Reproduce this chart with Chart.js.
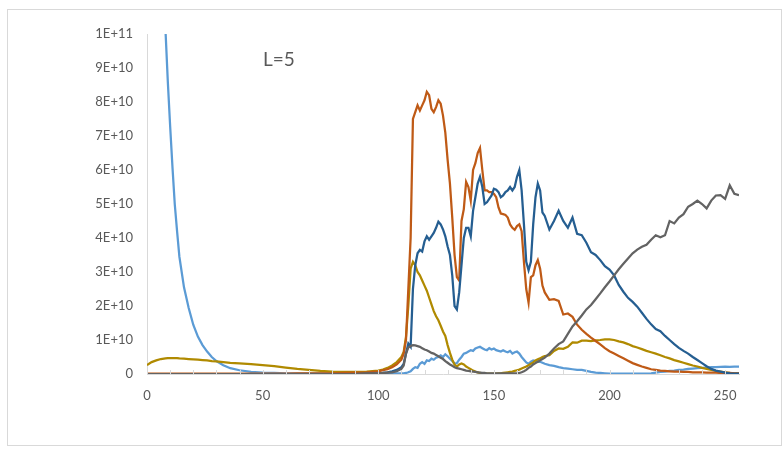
<!DOCTYPE html>
<html>
<head>
<meta charset="utf-8">
<script src="https://cdn.jsdelivr.net/npm/chart.js@4.4.1/dist/chart.umd.min.js"></script>
<style>
  body { margin: 0; background: #fff; }
  #wrap { width: 784px; height: 458px; }
</style>
</head>
<body>
<div id="wrap"><canvas id="chart" width="784" height="458"></canvas></div>
<script>
// x positions shared by every series (finer where the curves move fast)
const xs = [
  0, 2, 4, 6, 8, 9, 10, 11, 12, 13, 14, 16, 18, 20, 22, 24, 26, 28, 30, 33, 36, 40, 45, 50, 55, 60, 65, 70, 75, 80, 85, 90, 95,
  100, 102, 104, 106, 108, 110,
  111, 112, 113, 114, 115, 116, 117, 118, 119, 120,
  121, 122, 123, 124, 125, 126, 127, 128, 129, 130,
  131, 132, 133, 134, 135, 136, 137, 138, 139, 140,
  141, 142, 143, 144, 145, 146, 147, 148, 149, 150,
  151, 152, 153, 154, 155, 156, 157, 158, 159, 160,
  161, 162, 163, 164, 165, 166, 167, 168, 169, 170,
  171, 172,
  174, 176, 178, 180, 182, 184, 186, 188, 190, 192,
  194, 196, 198, 200, 202, 204, 206, 208, 210, 212,
  214, 216, 218, 220, 222, 224, 226, 228, 230, 232,
  234, 236, 238, 240, 242, 244, 246, 248, 250, 252,
  254, 256
];

// values in units of 1E+10
const lightBlue = [
  26, 21, 16.5, 12.8, 10.1, 8.6, 7.3, 6.1, 5.0, 4.2, 3.45, 2.55, 1.95, 1.45, 1.1, 0.85, 0.66, 0.5, 0.38, 0.26, 0.17, 0.11, 0.06, 0.04, 0.03, 0.02, 0.02, 0.02, 0.02, 0.02, 0.02, 0.02, 0.02,
  0.02, 0.02, 0.02, 0.02, 0.02, 0.02,
  0.02, 0.03, 0.05, 0.08, 0.15, 0.2, 0.18, 0.3, 0.35, 0.3,
  0.4, 0.38, 0.45, 0.42, 0.48, 0.5, 0.55, 0.5, 0.58, 0.52,
  0.45, 0.38, 0.3, 0.32, 0.42, 0.5, 0.6, 0.62, 0.66, 0.7,
  0.68, 0.75, 0.78, 0.8, 0.76, 0.72, 0.7, 0.76, 0.72, 0.75,
  0.7, 0.68, 0.66, 0.7, 0.66, 0.64, 0.68, 0.6, 0.64, 0.66,
  0.6, 0.5, 0.42, 0.34, 0.3, 0.36, 0.4, 0.38, 0.36, 0.36,
  0.33, 0.3,
  0.26, 0.24, 0.2, 0.17, 0.16, 0.14, 0.12, 0.12, 0.09, 0.06,
  0.04, 0.03, 0.02, 0.01, 0.01, 0.01, 0.01, 0.01, 0.01, 0.01,
  0.01, 0.01, 0.02, 0.04, 0.06, 0.07, 0.09, 0.1, 0.12, 0.13,
  0.15, 0.16, 0.17, 0.18, 0.19, 0.2, 0.2, 0.21, 0.22, 0.21,
  0.22, 0.22
];

const olive = [
  0.26, 0.35, 0.40, 0.44, 0.46, 0.47, 0.47, 0.47, 0.47, 0.47, 0.46, 0.45, 0.44, 0.43, 0.42, 0.41, 0.40, 0.38, 0.37, 0.35, 0.33, 0.31, 0.29, 0.26, 0.23, 0.19, 0.15, 0.12, 0.09, 0.07, 0.06, 0.06, 0.07,
  0.1, 0.13, 0.18, 0.25, 0.35, 0.5,
  0.65, 1.1, 2.0, 3.1, 3.3, 3.2, 3.0, 2.9, 2.75, 2.6,
  2.45, 2.25, 2.05, 1.85, 1.7, 1.58, 1.42, 1.25, 1.12, 0.85,
  0.62, 0.42, 0.28, 0.22, 0.28, 0.31, 0.28, 0.22, 0.18, 0.14,
  0.1, 0.07, 0.05, 0.03, 0.02, 0.01, 0.01, 0.01, 0.01, 0.01,
  0.01, 0.02, 0.02, 0.03, 0.04, 0.05, 0.06, 0.07, 0.09, 0.11,
  0.13, 0.16, 0.19, 0.22, 0.26, 0.3, 0.34, 0.4, 0.43, 0.46,
  0.5, 0.53,
  0.55, 0.68, 0.75, 0.74, 0.8, 0.93, 0.92, 0.98, 0.98, 0.97,
  0.99, 1.0, 1.02, 1.02, 1.0, 0.96, 0.93, 0.88, 0.82, 0.78,
  0.73, 0.68, 0.64, 0.6, 0.55, 0.5, 0.46, 0.41, 0.37, 0.33,
  0.29, 0.25, 0.22, 0.18, 0.15, 0.12, 0.09, 0.07, 0.05, 0.03,
  0.02, 0.02
];

const brown = [
  0.01, 0.01, 0.01, 0.01, 0.01, 0.01, 0.01, 0.01, 0.01, 0.01, 0.01, 0.01, 0.01, 0.01, 0.01, 0.01, 0.01, 0.01, 0.01, 0.01, 0.01, 0.01, 0.01, 0.01, 0.01, 0.01, 0.02, 0.02, 0.02, 0.02, 0.03, 0.04, 0.05,
  0.08, 0.11, 0.14, 0.2, 0.28, 0.42,
  0.6, 1.0, 2.5, 4.0, 7.5, 7.7, 7.9, 7.75, 7.9, 8.05,
  8.3, 8.2, 7.8, 7.7, 7.85, 8.05, 7.95, 7.6, 7.1, 6.3,
  5.6, 4.6, 3.5, 2.85, 2.75, 4.5, 4.85, 5.65, 5.5, 5.1,
  6.0, 6.2, 6.5, 6.65, 6.0, 5.4, 5.4, 5.35, 5.35, 5.3,
  5.2, 4.9, 4.72, 4.7, 4.68, 4.6, 4.4, 4.3, 4.24, 4.35,
  4.4, 4.2, 3.3, 2.5, 2.1, 2.85, 2.9, 3.2, 3.35, 3.1,
  2.6, 2.4,
  2.18, 2.2, 2.15, 1.75, 1.78, 1.68, 1.45, 1.3, 1.18, 1.07,
  0.97, 0.87, 0.76, 0.67, 0.6, 0.53, 0.46, 0.39, 0.32, 0.27,
  0.22, 0.18, 0.14, 0.12, 0.1, 0.09, 0.08, 0.07, 0.07, 0.06,
  0.06, 0.05, 0.05, 0.05, 0.04, 0.04, 0.04, 0.03, 0.03, 0.03,
  0.02, 0.02
];

const darkBlue = [
  0, 0, 0, 0, 0, 0, 0, 0, 0, 0, 0, 0, 0, 0, 0, 0, 0, 0, 0, 0, 0, 0, 0, 0, 0, 0, 0, 0, 0, 0, 0, 0, 0.01,
  0.02, 0.03, 0.05, 0.08, 0.12, 0.2,
  0.3, 0.6, 0.9, 0.8, 2.5, 3.2, 3.55, 3.65, 3.6, 3.9,
  4.05, 3.95, 4.05, 4.15, 4.3, 4.48, 4.4, 4.25, 4.05, 3.75,
  3.5, 2.9, 2.0, 1.9, 2.4, 3.2, 4.0, 4.3, 4.3, 4.05,
  4.8, 5.2, 5.6, 5.8, 5.5, 5.0, 5.05, 5.15, 5.25, 5.45,
  5.42, 5.35, 5.2, 5.25, 5.35, 5.4, 5.5, 5.4, 5.5, 5.8,
  6.0, 5.4, 4.4, 3.3, 3.05, 3.3, 4.4, 5.2, 5.6, 5.4,
  4.75, 4.65,
  4.25, 4.5, 4.8, 4.5, 4.3, 4.6, 4.12, 4.08, 3.86, 3.58,
  3.5, 3.35, 3.17, 3.07, 2.9, 2.62, 2.42, 2.24, 2.12, 1.98,
  1.8, 1.62, 1.46, 1.32, 1.26, 1.12, 1.0, 0.88, 0.77, 0.68,
  0.6, 0.5, 0.41, 0.32, 0.23, 0.15, 0.1, 0.07, 0.04, 0.02,
  0.01, 0.01
];

const gray = [
  0, 0, 0, 0, 0, 0, 0, 0, 0, 0, 0, 0, 0, 0, 0, 0, 0, 0, 0, 0, 0, 0, 0, 0, 0, 0, 0, 0, 0, 0, 0, 0, 0.01,
  0.02, 0.03, 0.04, 0.05, 0.08, 0.15,
  0.25, 0.6, 0.78, 0.82, 0.85, 0.84, 0.82, 0.8, 0.76, 0.72,
  0.7, 0.66, 0.62, 0.6, 0.56, 0.52, 0.48, 0.44, 0.38, 0.33,
  0.28, 0.24, 0.2, 0.17, 0.16, 0.14, 0.12, 0.1, 0.09, 0.08,
  0.07, 0.06, 0.05, 0.04, 0.03, 0.03, 0.02, 0.02, 0.02, 0.02,
  0.02, 0.02, 0.02, 0.02, 0.02, 0.02, 0.02, 0.02, 0.02, 0.02,
  0.03, 0.05, 0.08, 0.12, 0.18, 0.22, 0.28, 0.32, 0.36, 0.4,
  0.44, 0.48,
  0.6, 0.75, 0.88, 0.96, 1.18, 1.4, 1.55, 1.72, 1.9, 2.03,
  2.2, 2.37, 2.55, 2.72, 2.9, 3.08, 3.24, 3.4, 3.55, 3.66,
  3.74, 3.8, 3.95, 4.08, 4.02, 4.08, 4.5, 4.43, 4.6, 4.7,
  4.92, 5.0, 5.1, 5.0, 4.87, 5.1, 5.25, 5.26, 5.15, 5.55,
  5.3, 5.26
];

const xTickValues = [0, 50, 100, 150, 200, 250];
const xMinorTicks = [10, 20, 30, 40, 60, 70, 80, 90, 110, 120, 130, 140, 160, 170, 180, 190, 210, 220, 230, 240];
const yTickValues = [0, 1, 2, 3, 4, 5, 6, 7, 8, 9, 10];
const yTickLabels = ['0', '1E+10', '2E+10', '3E+10', '4E+10', '5E+10', '6E+10', '7E+10', '8E+10', '9E+10', '1E+11'];
const chartTitle = 'L=5';

const toPoints = arr => xs.map((x, i) => ({ x: x, y: arr[i] }));

const axisColor = '#d9d9d9';
const textColor = '#595959';

// frame, title text and the small inside tick marks
const decorations = {
  id: 'decorations',
  afterDraw(chart) {
    const ctx = chart.ctx;
    const xScale = chart.scales.x;
    const bottom = chart.chartArea.bottom;
    ctx.save();
    ctx.strokeStyle = axisColor;
    ctx.lineWidth = 1;
    ctx.strokeRect(7.5, 9.5, 774, 436);
    ctx.beginPath();
    xMinorTicks.concat(xTickValues).forEach(v => {
      const px = Math.round(xScale.getPixelForValue(v)) + 0.5;
      ctx.moveTo(px, bottom);
      ctx.lineTo(px, bottom - 4);
    });
    ctx.stroke();
    ctx.fillStyle = textColor;
    ctx.font = '19px Lato, "Open Sans", sans-serif';
    ctx.textBaseline = 'middle';
    ctx.fillText(chartTitle, 263, 60);
    ctx.restore();
  }
};

const ctx = document.getElementById('chart').getContext('2d');
new Chart(ctx, {
  type: 'line',
  data: {
    datasets: [
      { label: 'gray', data: toPoints(gray), borderColor: '#636363' },
      { label: 'darkBlue', data: toPoints(darkBlue), borderColor: '#255e91' },
      { label: 'brown', data: toPoints(brown), borderColor: '#bf5a16' },
      { label: 'olive', data: toPoints(olive), borderColor: '#b08a00' },
      { label: 'lightBlue', data: toPoints(lightBlue), borderColor: '#5b9bd5' }
    ]
  },
  options: {
    responsive: false,
    animation: false,
    devicePixelRatio: 1,
    layout: { padding: { top: 34, right: 45, bottom: 0, left: 0 } },
    elements: {
      point: { radius: 0 },
      line: { borderWidth: 2.25, tension: 0 }
    },
    plugins: {
      legend: { display: false },
      tooltip: { enabled: false }
    },
    scales: {
      x: {
        type: 'linear',
        min: 0,
        max: 256,
        afterBuildTicks: scale => { scale.ticks = xTickValues.map(v => ({ value: v })); },
        afterFit: scale => { scale.height = 84; },
        grid: { display: false, drawTicks: false },
        border: { color: axisColor, width: 1 },
        ticks: { color: textColor, font: { family: 'Lato', size: 13 }, padding: 14, maxRotation: 0 }
      },
      y: {
        min: 0,
        max: 10,
        afterBuildTicks: scale => { scale.ticks = yTickValues.map(v => ({ value: v })); },
        afterFit: scale => { scale.width = 147; },
        grid: { display: false, drawTicks: false },
        border: { color: axisColor, width: 1 },
        ticks: {
          color: textColor,
          font: { family: 'Lato', size: 13 },
          padding: 14,
          callback: (v, i) => yTickLabels[i]
        }
      }
    }
  },
  plugins: [decorations]
});
</script>
</body>
</html>
